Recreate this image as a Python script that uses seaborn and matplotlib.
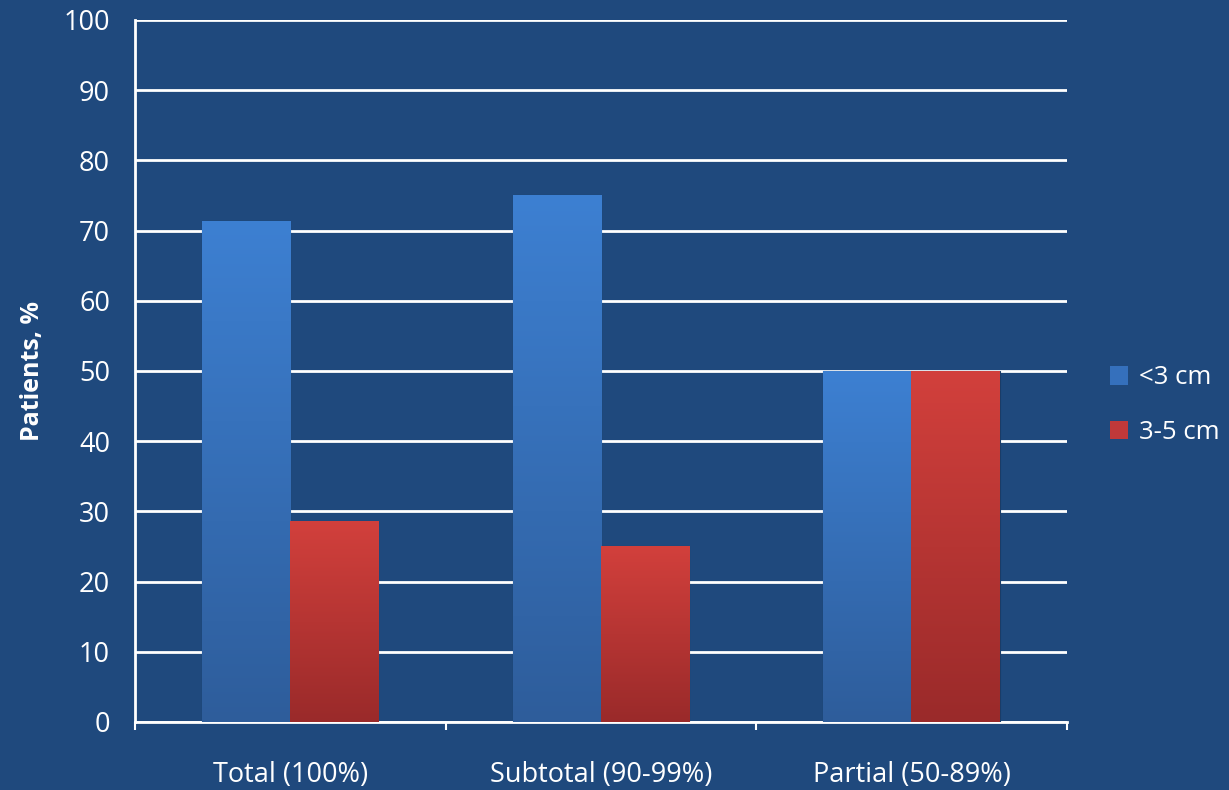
import numpy as np
import pandas as pd
import matplotlib
matplotlib.use("Agg")
import matplotlib.pyplot as plt
import seaborn as sns
from matplotlib.colors import LinearSegmentedColormap
from matplotlib.patches import Patch

categories = ["Total (100%)", "Subtotal (90-99%)", "Partial (50-89%)"]
series_names = ["<3 cm", "3-5 cm"]
small_vals = [71.4, 75.0, 50.0]
large_vals = [28.6, 25.0, 50.0]
y_ticks = [0, 10, 20, 30, 40, 50, 60, 70, 80, 90, 100]

df = pd.DataFrame({
    "Category": categories * 2,
    "Size": [series_names[0]] * 3 + [series_names[1]] * 3,
    "Value": small_vals + large_vals,
})

BG = "#1F497D"
sns.set_theme(style="white")
plt.rcParams["font.family"] = ["Open Sans", "DejaVu Sans"]

fig = plt.figure(figsize=(12.29, 7.9), dpi=100, facecolor=BG)
ax = fig.add_axes([0.1098, 0.0861, 0.868 - 0.1098, 0.9747 - 0.0861])
ax.set_facecolor(BG)

top_cols = {"<3 cm": "#3D80D2", "3-5 cm": "#D2403C"}
bot_cols = {"<3 cm": "#2E5D9B", "3-5 cm": "#9A2A2A"}

sns.barplot(data=df, x="Category", y="Value", hue="Size", order=categories,
            hue_order=series_names, palette=top_cols, width=0.567, gap=0,
            saturation=1, ax=ax, legend=False, zorder=3)

# gradient fills
grad = np.linspace(0, 1, 256).reshape(-1, 1)
bars = [p for p in ax.patches]
for i, p in enumerate(bars):
    name = series_names[i // 3]
    cmap = LinearSegmentedColormap.from_list("g", [bot_cols[name], top_cols[name]])
    x, y = p.get_x(), p.get_y()
    w, h = p.get_width(), p.get_height()
    im = ax.imshow(grad, cmap=cmap, aspect="auto", origin="lower",
                   extent=[x, x + w, y, y + h], zorder=4, interpolation="bicubic")
    im.set_clip_path(p)
    p.set_edgecolor("#1A3C68")
    p.set_linewidth(0.8)
ax.set_xlim(-0.5, 2.5)
ax.set_ylim(0, 100)

FS = 19.5
ax.set_yticks(y_ticks)
ax.set_yticklabels([str(t) for t in y_ticks])
ax.yaxis.grid(True, color="white", linewidth=2, zorder=1)
ax.set_axisbelow(True)

ax.set_xticks([0, 1, 2])
ax.set_xticklabels(categories)
ax.set_xticks([-0.5, 0.5, 1.5, 2.5], minor=True)
ax.tick_params(axis="x", which="major", length=0, pad=28, labelsize=FS, colors="white")
ax.tick_params(axis="x", which="minor", length=6, width=1.5, color="white", direction="out")
ax.tick_params(axis="y", which="major", length=6, width=1.5, color="white", direction="out",
               labelsize=FS, labelcolor="white", pad=12)
ax.xaxis.set_tick_params(bottom=True, which="both")

for s in ["top", "right"]:
    ax.spines[s].set_visible(False)
for s in ["left", "bottom"]:
    ax.spines[s].set_color("white")
    ax.spines[s].set_linewidth(2)

ax.set_xlabel("")
ax.set_ylabel("Patients, %", color="white", fontsize=18, fontweight="bold", labelpad=13)

handles = [Patch(facecolor="#3570BC", edgecolor="none"),
           Patch(facecolor="#C0393A", edgecolor="none")]
leg = fig.legend(handles, series_names, loc="center left", bbox_to_anchor=(0.884, 0.487),
                 frameon=False, fontsize=18.5, labelcolor="white", handlelength=0.7,
                 handleheight=0.75, handletextpad=0.45, labelspacing=1.15)

fig.savefig("out.png", dpi=100, facecolor=BG)
